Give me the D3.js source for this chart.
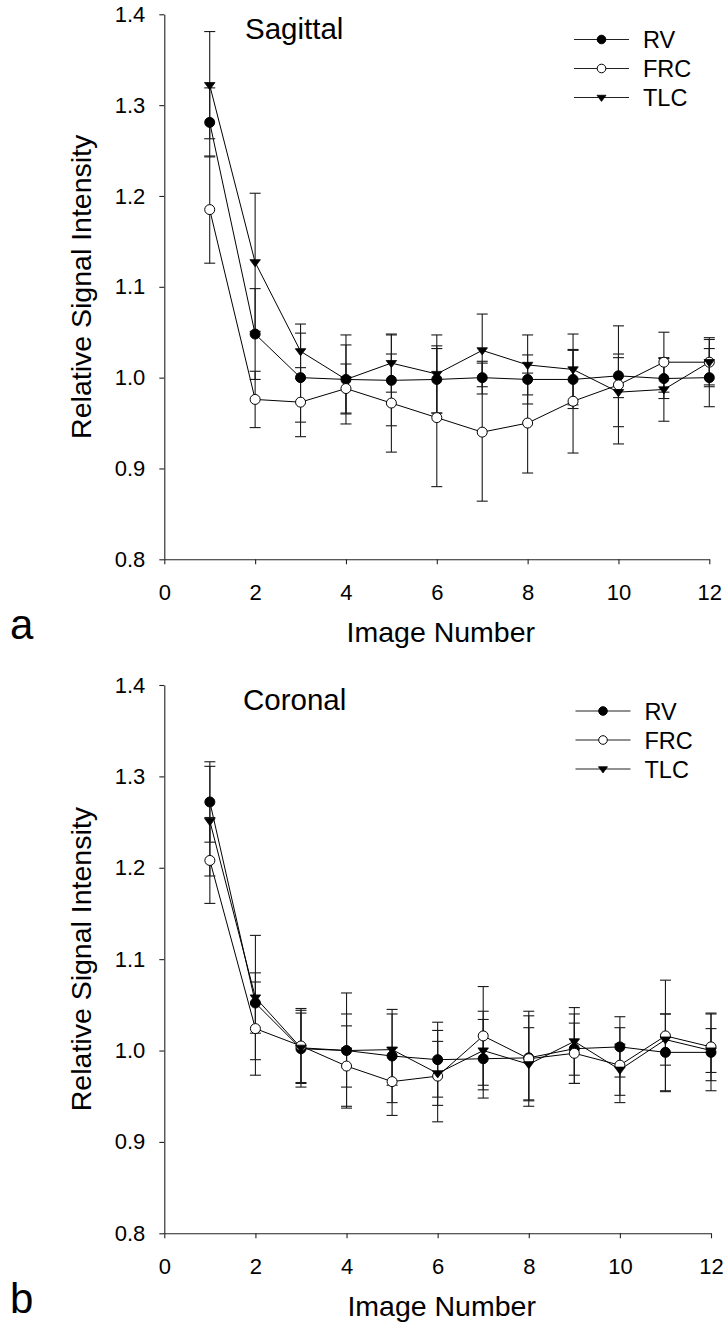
<!DOCTYPE html>
<html>
<head>
<meta charset="utf-8">
<script src="https://cdn.jsdelivr.net/npm/d3@7"></script>
<style>
  html, body { margin: 0; padding: 0; background: #fff; }
  svg { display: block; font-family: "Liberation Sans", Arial, sans-serif; }
</style>
</head>
<body>
<svg id="chart" width="728" height="1329"></svg>
<script>
// ---------- data ----------
const imageNumbers = [1, 2, 3, 4, 5, 6, 7, 8, 9, 10, 11, 12];
const seriesNames = ["RV", "FRC", "TLC"];
const xTicks = [0, 2, 4, 6, 8, 10, 12];
const yTicks = [0.8, 0.9, 1.0, 1.1, 1.2, 1.3, 1.4];

// Panel a: Sagittal
const sagRV     = [1.281, 1.048, 1.000, 0.998, 0.997, 0.998, 1.000, 0.998, 0.998, 1.002, 0.999, 1.000];
const sagRVErr  = [0.038, 0.050, 0.049, 0.049, 0.050, 0.037, 0.018, 0.027, 0.032, 0.024, 0.022, 0.032];
const sagFRC    = [1.185, 0.976, 0.973, 0.988, 0.972, 0.956, 0.940, 0.950, 0.974, 0.992, 1.017, 1.017];
const sagFRCErr = [0.059, 0.031, 0.038, 0.027, 0.054, 0.076, 0.076, 0.055, 0.057, 0.065, 0.033, 0.027];
const sagTLC    = [1.322, 1.127, 1.029, 0.998, 1.016, 1.004, 1.030, 1.014, 1.009, 0.984, 0.987, 1.017];
const sagTLCErr = [0.059, 0.076, 0.030, 0.038, 0.032, 0.043, 0.040, 0.033, 0.039, 0.038, 0.035, 0.025];

// Panel b: Coronal
const corRV     = [1.272, 1.052, 1.002, 1.000, 0.994, 0.990, 0.991, 0.992, 1.002, 1.004, 0.998, 0.998];
const corRVErr  = [0.044, 0.033, 0.042, 0.063, 0.051, 0.041, 0.043, 0.046, 0.038, 0.033, 0.042, 0.042];
const corFRC    = [1.208, 1.024, 1.005, 0.983, 0.966, 0.972, 1.016, 0.991, 0.997, 0.984, 1.016, 1.004];
const corFRCErr = [0.047, 0.051, 0.041, 0.044, 0.037, 0.050, 0.054, 0.052, 0.033, 0.041, 0.061, 0.037];
const corTLC    = [1.251, 1.058, 1.003, 1.000, 1.001, 0.975, 1.000, 0.985, 1.010, 0.979, 1.012, 1.000];
const corTLCErr = [0.060, 0.068, 0.038, 0.040, 0.039, 0.035, 0.043, 0.040, 0.037, 0.028, 0.028, 0.024];

// ---------- layout ----------
const panels = [
  { title: "Sagittal", letter: "a", x0: 164.3, x1: 709.3, y0: 14.3, y1: 559.3,
    values: [sagRV, sagFRC, sagTLC], errors: [sagRVErr, sagFRCErr, sagTLCErr],
    titleX: 245, titleY: 38.5, legendX: 574, legendY: 39.5 },
  { title: "Coronal", letter: "b", x0: 164.3, x1: 711, y0: 685, y1: 1233.3,
    values: [corRV, corFRC, corTLC], errors: [corRVErr, corFRCErr, corTLCErr],
    titleX: 243, titleY: 710, legendX: 575.5, legendY: 711 }
];

const svg = d3.select("#chart");
const ink = "#000";

function marker(sel, kind, size) {
  if (kind === "TLC") {
    const w = size * 1.05, h = size * 0.95;
    sel.append("path")
      .attr("d", `M${-w},${-h * 0.55} L${w},${-h * 0.55} L0,${h * 0.95} Z`)
      .attr("fill", ink).attr("stroke", ink).attr("stroke-width", 0.8);
  } else {
    sel.append("circle").attr("r", size)
      .attr("fill", kind === "RV" ? ink : "#fff")
      .attr("stroke", ink).attr("stroke-width", 1);
  }
}

panels.forEach(p => {
  const x = d3.scaleLinear().domain([0, 12]).range([p.x0, p.x1]);
  const y = d3.scaleLinear().domain([0.8, 1.4]).range([p.y1, p.y0]);
  const g = svg.append("g");

  // axes
  const yAxis = d3.axisLeft(y).tickValues(yTicks).tickFormat(d3.format(".1f"))
    .tickSize(5).tickSizeOuter(0).tickPadding(14);
  const gy = g.append("g").attr("transform", `translate(${p.x0},0)`).call(yAxis);
  const xAxis = d3.axisBottom(x).tickValues(xTicks).tickFormat(d3.format("d"))
    .tickSize(5).tickSizeOuter(0).tickPadding(20);
  const gx = g.append("g").attr("transform", `translate(0,${p.y1})`).call(xAxis);
  [gx, gy].forEach(a => {
    a.select(".domain").attr("stroke", "#222").attr("stroke-width", 1.1);
    a.selectAll(".tick line").attr("stroke", "#222").attr("stroke-width", 1.1);
    a.selectAll(".tick text").attr("fill", ink).attr("font-size", 22)
      .attr("font-family", "Liberation Sans, Arial, sans-serif");
  });

  // axis titles
  g.append("text")
    .attr("transform", `translate(91,${(p.y0 + p.y1) / 2}) rotate(-90)`)
    .attr("text-anchor", "middle").attr("font-size", 28.5).attr("fill", ink)
    .text("Relative Signal Intensity");
  g.append("text")
    .attr("x", (p.x0 + p.x1) / 2 + 4).attr("y", p.y1 + 83)
    .attr("text-anchor", "middle").attr("font-size", 28.5).attr("fill", ink)
    .text("Image Number");
  g.append("text")
    .attr("x", 10).attr("y", p.y1 + 80)
    .attr("font-size", 42).attr("fill", ink)
    .text(p.letter);
  g.append("text")
    .attr("x", p.titleX).attr("y", p.titleY)
    .attr("font-size", 29.5).attr("fill", ink)
    .text(p.title);

  const line = d3.line().x((d, i) => x(imageNumbers[i])).y(d => y(d));

  // connecting lines
  p.values.forEach(vals => {
    g.append("path").datum(vals).attr("d", line)
      .attr("fill", "none").attr("stroke", ink).attr("stroke-width", 1);
  });

  // error bars
  p.values.forEach((vals, s) => {
    const errs = p.errors[s];
    const eb = g.append("g").attr("stroke", "#1a1a1a").attr("stroke-width", 1.1);
    vals.forEach((v, i) => {
      const cx = x(imageNumbers[i]);
      const top = y(v + errs[i]), bot = y(v - errs[i]);
      eb.append("line").attr("x1", cx).attr("x2", cx).attr("y1", top).attr("y2", bot);
      eb.append("line").attr("x1", cx - 5.5).attr("x2", cx + 5.5).attr("y1", top).attr("y2", top);
      eb.append("line").attr("x1", cx - 5.5).attr("x2", cx + 5.5).attr("y1", bot).attr("y2", bot);
    });
  });

  // markers
  p.values.forEach((vals, s) => {
    vals.forEach((v, i) => {
      const m = g.append("g").attr("transform", `translate(${x(imageNumbers[i])},${y(v)})`);
      marker(m, seriesNames[s], 5);
    });
  });

  // legend
  seriesNames.forEach((name, s) => {
    const ly = p.legendY + s * 29;
    const lg = g.append("g");
    lg.append("line").attr("x1", p.legendX).attr("x2", p.legendX + 55)
      .attr("y1", ly).attr("y2", ly).attr("stroke", "#222").attr("stroke-width", 1.1);
    const m = lg.append("g").attr("transform", `translate(${p.legendX + 27.5},${ly})`);
    marker(m, name, 4.3);
    lg.append("text").attr("x", p.legendX + 69).attr("y", ly + 8.5)
      .attr("font-size", 23.5).attr("fill", ink).text(name);
  });
});
</script>
</body>
</html>
